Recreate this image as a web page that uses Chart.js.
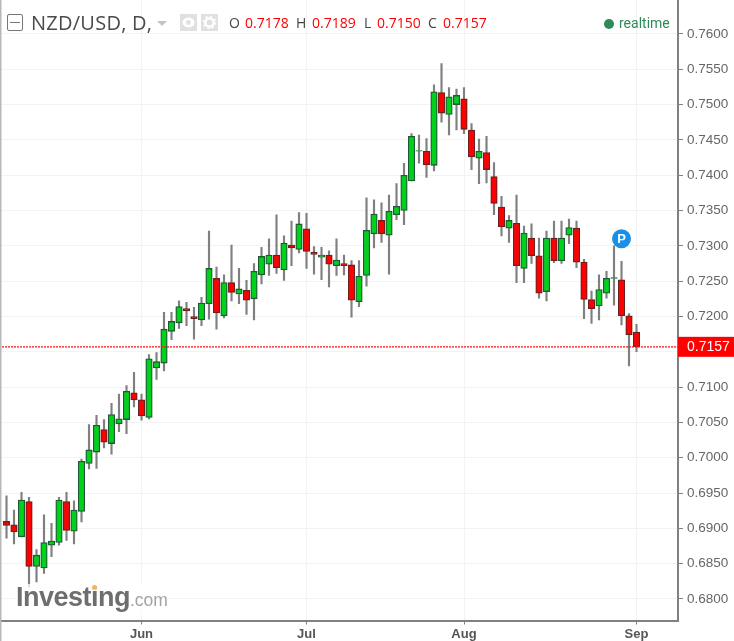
<!DOCTYPE html>
<html>
<head>
<meta charset="utf-8">
<title>NZD/USD</title>
<script src="https://cdn.jsdelivr.net/npm/chart.js@4/dist/chart.umd.min.js"></script>
<style>
html, body { margin: 0; padding: 0; background: #fff; }
#wrap { position: relative; width: 734px; height: 641px; overflow: hidden; }
#chart { position: absolute; left: 0; top: 0; }
.t { position: absolute; white-space: nowrap; font-family: "Open Sans", sans-serif; }
.box { position: absolute; }
.ohlc { font-size: 14px; line-height: 18px; top: 14px; }
.lab { color: #444; }
.val { color: #f00; }
</style>
</head>
<body>
<div id="wrap">
    <canvas id="chart" width="734" height="641"></canvas>

    <div class="box" style="left:7px;top:14px;width:14px;height:15px;border:1px solid #777;border-radius:2px;"></div>
    <div class="box" style="left:10px;top:22px;width:10px;height:1px;background:#777;"></div>
    <div class="t" style="left:31px;top:8px;font-size:20px;line-height:30px;letter-spacing:.25px;color:#4a4a4a;">NZD/USD, D,</div>
    <svg class="box" style="left:157px;top:20px;" width="11" height="7"><path d="M0 1H10L5 6Z" fill="#c4c4c4"/></svg>
    <svg class="box" style="left:180px;top:14px;" width="38" height="17">
        <rect x="0" width="17" height="17" fill="#e0e0e0"/>
        <rect x="21" width="17" height="17" fill="#e0e0e0"/>
        <ellipse cx="8.5" cy="8.5" rx="6" ry="5" fill="#fff"/>
        <circle cx="8.5" cy="8.5" r="2.4" fill="#e0e0e0"/>
        <circle cx="29.5" cy="8.5" r="4.2" fill="none" stroke="#fff" stroke-width="2.4"/>
        <circle cx="29.5" cy="8.5" r="6" fill="none" stroke="#fff" stroke-width="1.6" stroke-dasharray="2 2.7"/>
    </svg>
    <div class="t ohlc lab" style="left:229px;">O</div>
    <div class="t ohlc val" style="left:245px;">0.7178</div>
    <div class="t ohlc lab" style="left:296px;">H</div>
    <div class="t ohlc val" style="left:312px;">0.7189</div>
    <div class="t ohlc lab" style="left:364px;">L</div>
    <div class="t ohlc val" style="left:377px;">0.7150</div>
    <div class="t ohlc lab" style="left:428px;">C</div>
    <div class="t ohlc val" style="left:443px;">0.7157</div>

    <div class="box" style="left:604px;top:19px;width:10px;height:10px;border-radius:50%;background:#2e8b57;"></div>
    <div class="t" style="left:619px;top:14px;font-family:Roboto,sans-serif;font-size:14px;line-height:18px;color:#2e8b57;">realtime</div>

    <div class="box" style="left:15px;top:584px;width:152px;height:30px;background:rgba(255,255,255,.75);"></div>
    <div class="t" style="left:16px;top:581px;font-family:'Liberation Sans',sans-serif;font-weight:bold;font-size:27px;line-height:32px;letter-spacing:-.5px;color:#6e6e6e;">Investing</div>
    <div class="t" style="left:130px;top:587px;font-family:'Liberation Sans',sans-serif;font-size:17.5px;line-height:26px;color:#a3a3a3;">.com</div>
    <div class="box" style="left:92px;top:585px;width:5px;height:5px;border-radius:50%;background:#f7b25e;"></div>
</div>

<script>
// daily candles, index 18 = 1 Jun
var opens = [0.6910, 0.6905, 0.6888, 0.6938, 0.6846, 0.6844, 0.6876, 0.6880, 0.6938, 0.6896, 0.6924, 0.6992, 0.7008, 0.7040, 0.7020, 0.7048, 0.7054, 0.7092, 0.7082, 0.7057, 0.7127, 0.7134, 0.7179, 0.7191, 0.7211, 0.7200, 0.7195, 0.7218, 0.7254, 0.7201, 0.7248, 0.7232, 0.7237, 0.7225, 0.7259, 0.7274, 0.7287, 0.7266, 0.7301, 0.7295, 0.7324, 0.7291, 0.7284, 0.7287, 0.7272, 0.7275, 0.7273, 0.7221, 0.7258, 0.7317, 0.7336, 0.7315, 0.7344, 0.7350, 0.7392, 0.7434, 0.7434, 0.7414, 0.7517, 0.7486, 0.7500, 0.7508, 0.7464, 0.7424, 0.7432, 0.7398, 0.7355, 0.7325, 0.7332, 0.7268, 0.7311, 0.7286, 0.7235, 0.7311, 0.7279, 0.7315, 0.7325, 0.7277, 0.7224, 0.7215, 0.7233, 0.7254, 0.7252, 0.7201, 0.7178];
var highs = [0.6946, 0.6926, 0.6951, 0.6944, 0.6870, 0.6919, 0.6907, 0.6944, 0.6951, 0.6939, 0.6998, 0.7047, 0.7060, 0.7054, 0.7077, 0.7090, 0.7102, 0.7121, 0.7090, 0.7146, 0.7149, 0.7206, 0.7206, 0.7222, 0.7220, 0.7213, 0.7227, 0.7321, 0.7270, 0.7259, 0.7301, 0.7268, 0.7251, 0.7275, 0.7298, 0.7310, 0.7344, 0.7314, 0.7335, 0.7347, 0.7346, 0.7299, 0.7298, 0.7293, 0.7310, 0.7287, 0.7279, 0.7279, 0.7368, 0.7365, 0.7361, 0.7372, 0.7388, 0.7417, 0.7459, 0.7457, 0.7452, 0.7528, 0.7558, 0.7524, 0.7522, 0.7524, 0.7473, 0.7451, 0.7455, 0.7418, 0.7370, 0.7343, 0.7372, 0.7328, 0.7331, 0.7311, 0.7321, 0.7335, 0.7335, 0.7338, 0.7335, 0.7281, 0.7236, 0.7259, 0.7264, 0.7300, 0.7278, 0.7204, 0.7189];
var lows = [0.6886, 0.6878, 0.6888, 0.6817, 0.6824, 0.6836, 0.6860, 0.6876, 0.6883, 0.6878, 0.6909, 0.6984, 0.6985, 0.7014, 0.7005, 0.7037, 0.7034, 0.7072, 0.7053, 0.7055, 0.7111, 0.7123, 0.7167, 0.7183, 0.7187, 0.7168, 0.7187, 0.7196, 0.7182, 0.7198, 0.7222, 0.7218, 0.7203, 0.7195, 0.7246, 0.7258, 0.7261, 0.7251, 0.7272, 0.7290, 0.7268, 0.7260, 0.7252, 0.7242, 0.7258, 0.7259, 0.7199, 0.7214, 0.7243, 0.7297, 0.7305, 0.7260, 0.7337, 0.7330, 0.7392, 0.7417, 0.7397, 0.7406, 0.7475, 0.7457, 0.7464, 0.7459, 0.7408, 0.7388, 0.7389, 0.7344, 0.7314, 0.7305, 0.7248, 0.7248, 0.7275, 0.7226, 0.7222, 0.7276, 0.7275, 0.7303, 0.7269, 0.7197, 0.7190, 0.7195, 0.7226, 0.7216, 0.7188, 0.7130, 0.7150];
var closes = [0.6904, 0.6895, 0.6940, 0.6846, 0.6862, 0.6880, 0.6882, 0.6940, 0.6897, 0.6926, 0.6995, 0.7011, 0.7046, 0.7022, 0.7061, 0.7055, 0.7094, 0.7082, 0.7059, 0.7140, 0.7136, 0.7182, 0.7193, 0.7214, 0.7208, 0.7197, 0.7219, 0.7268, 0.7205, 0.7248, 0.7234, 0.7239, 0.7223, 0.7264, 0.7285, 0.7287, 0.7269, 0.7304, 0.7297, 0.7331, 0.7292, 0.7288, 0.7287, 0.7274, 0.7280, 0.7272, 0.7223, 0.7257, 0.7322, 0.7345, 0.7317, 0.7349, 0.7356, 0.7400, 0.7455, 0.7435, 0.7415, 0.7518, 0.7488, 0.7511, 0.7513, 0.7465, 0.7426, 0.7434, 0.7408, 0.7360, 0.7327, 0.7336, 0.7272, 0.7318, 0.7286, 0.7233, 0.7311, 0.7279, 0.7311, 0.7326, 0.7277, 0.7224, 0.7211, 0.7238, 0.7254, 0.7255, 0.7201, 0.7174, 0.7157];

var monthIndex = [18, 40, 61, 84];
var monthLabels = ['Jun', 'Jul', 'Aug', 'Sep'];
var priceTicks = [0.68, 0.685, 0.69, 0.695, 0.70, 0.705, 0.71, 0.715, 0.72, 0.725, 0.73, 0.735, 0.74, 0.745, 0.75, 0.755, 0.76];
var lastPrice = 0.7157;
var markerIndex = [82];
var markerPrice = [0.7310];

var UP = '#00d21c', DOWN = '#ff0000';
var UP_EDGE = '#1f5a35', DOWN_EDGE = '#6e1f1f';

var wicks = [], bodies = [], fills = [], edges = [];
for (var i = 0; i < opens.length; i++) {
    wicks.push({ x: i, y: [lows[i], highs[i]] });
    bodies.push({ x: i, y: [opens[i], closes[i]] });
    fills.push(closes[i] >= opens[i] ? UP : DOWN);
    edges.push(closes[i] >= opens[i] ? UP_EDGE : DOWN_EDGE);
}

// no label overhang: the plot runs to the edge of the canvas
function noMargins(axis) {
    axis.paddingLeft = axis.paddingRight = axis.paddingTop = axis.paddingBottom = 0;
}

var chartExtras = {
    id: 'chartExtras',
    afterDraw: function (chart) {
        var c = chart.ctx, y = chart.scales.y, x = chart.scales.x;
        var py = y.getPixelForValue(lastPrice);

        c.save();
        // left edge of the pane
        c.fillStyle = '#b8b8b8';
        c.fillRect(0, 0, 1.5, 641);

        // last price tag
        c.fillStyle = '#ff0000';
        c.fillRect(x.right, py - 10, chart.width - x.right, 20);
        c.fillStyle = '#fff';
        c.font = '14px "Liberation Sans", sans-serif';
        c.textBaseline = 'middle';
        c.fillText(lastPrice.toFixed(4), x.right + 9, py + 0.5);

        // P marker
        c.font = 'bold 13px "Liberation Sans", sans-serif';
        c.textAlign = 'center';
        c.fillText('P', x.getPixelForValue(markerIndex[0]), y.getPixelForValue(markerPrice[0]) + 0.5);
        c.restore();
    }
};

new Chart(document.getElementById('chart'), {
    data: {
        datasets: [{
            type: 'scatter',
            data: [{ x: markerIndex[0], y: markerPrice[0] }],
            pointRadius: 9.5,
            pointBackgroundColor: '#1a8fe8',
            pointBorderWidth: 0,
            order: 0
        }, {
            type: 'line',
            data: [{ x: -1, y: lastPrice }, { x: 90, y: lastPrice }],
            borderColor: '#ff1010',
            borderWidth: 1.2,
            borderDash: [2, 1],
            pointRadius: 0,
            order: 1
        }, {
            type: 'bar',
            data: bodies,
            grouped: false,
            barThickness: 6.5,
            backgroundColor: fills,
            borderColor: edges,
            borderWidth: 1.3,
            borderSkipped: false,
            order: 2
        }, {
            type: 'bar',
            data: wicks,
            grouped: false,
            barThickness: 1.5,
            backgroundColor: '#808080',
            order: 3
        }]
    },
    options: {
        responsive: false,
        animation: false,
        layout: { padding: 0, autoPadding: false },
        plugins: { legend: { display: false }, tooltip: { enabled: false } },
        scales: {
            x: {
                type: 'linear',
                offset: false,
                min: -0.867,
                max: 89.533,
                grid: { offset: false, color: '#f3f3f3', tickColor: '#808080', tickLength: 4, lineWidth: 1 },
                border: { color: '#808080', width: 2 },
                afterBuildTicks: function (axis) {
                    axis.ticks = monthIndex.map(function (v) { return { value: v }; });
                },
                afterFit: function (axis) { axis.height = 20.5; noMargins(axis); },
                ticks: {
                    autoSkip: false,
                    maxRotation: 0,
                    padding: 2,
                    color: '#555',
                    font: { family: '"Liberation Sans", sans-serif', size: 13, weight: 'bold' },
                    callback: function (v) { return monthLabels[monthIndex.indexOf(v)]; }
                }
            },
            y: {
                position: 'right',
                min: 0.67695,
                max: 0.76481,
                grid: { color: '#f3f3f3', tickColor: '#808080', tickLength: 5 },
                border: { color: '#808080', width: 2 },
                afterBuildTicks: function (axis) {
                    axis.ticks = priceTicks.map(function (v) { return { value: v }; });
                },
                afterFit: function (axis) { axis.width = 56; noMargins(axis); },
                ticks: {
                    autoSkip: false,
                    padding: 4,
                    color: '#666',
                    font: { family: '"Liberation Sans", sans-serif', size: 13.5 },
                    callback: function (v) { return v.toFixed(4); }
                }
            }
        }
    },
    plugins: [chartExtras]
});
</script>
</body>
</html>
